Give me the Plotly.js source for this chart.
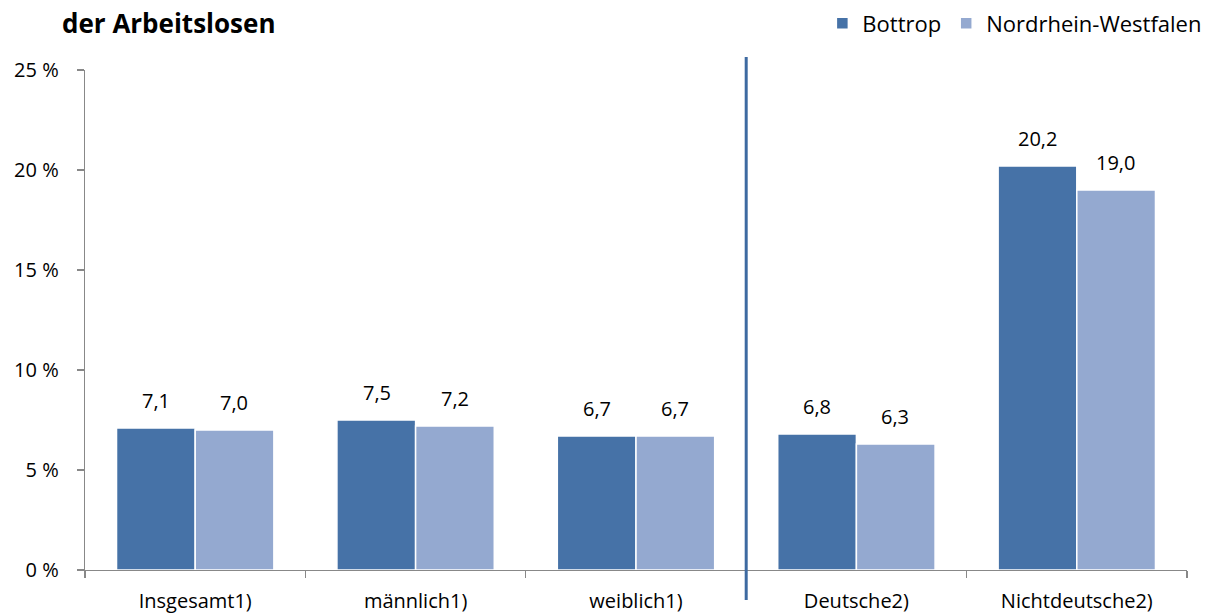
<!DOCTYPE html>
<html><head><meta charset="utf-8">
<script src="https://cdn.plot.ly/plotly-3.0.1.min.js"></script>
<style>html,body{margin:0;padding:0;background:#fff}#chart{width:1211px;height:615px}</style>
</head><body><div id="chart"></div>
<script>
const categories = ["Insgesamt1)", "männlich1)", "weiblich1)", "Deutsche2)", "Nichtdeutsche2)"];
const bottrop = [7.1, 7.5, 6.7, 6.8, 20.2];
const nrw = [7.0, 7.2, 6.7, 6.3, 19.0];
const seriesNames = ["Bottrop", "Nordrhein-Westfalen"];
const yTickVals = [0, 5, 10, 15, 20, 25];
const yTickText = ["0 %", "5 %", "10 %", "15 %", "20 %", "25 %"];
const titleText = "der Arbeitslosen";

const fmt = v => v.toFixed(1).replace(".", ",");
const FONT = "Open Sans, sans-serif";

const traces = [
  {type: "bar", name: seriesNames[0], x: categories, y: bottrop,
   marker: {color: "#4672A7", line: {color: "#ffffff", width: 1.5}}, hoverinfo: "none"},
  {type: "bar", name: seriesNames[1], x: categories, y: nrw,
   marker: {color: "#94A9D0", line: {color: "#ffffff", width: 1.5}}, hoverinfo: "none"}
];

const annotations = [];
categories.forEach((c, i) => {
  annotations.push({x: c, y: bottrop[i], xref: "x", yref: "y", text: fmt(bottrop[i]), showarrow: false,
    xshift: -39, yshift: 28, yanchor: "middle", font: {family: FONT, size: 20, color: "#000"}});
  annotations.push({x: c, y: nrw[i], xref: "x", yref: "y", text: fmt(nrw[i]), showarrow: false,
    xshift: 39, yshift: 28, yanchor: "middle", font: {family: FONT, size: 20, color: "#000"}});
});
annotations.push({x: -0.0227, y: 1.094, xref: "paper", yref: "paper", xanchor: "left", yanchor: "middle",
  text: "<b>" + titleText + "</b>", showarrow: false, font: {family: FONT, size: 26, color: "#000"}});

const layout = {
  width: 1211, height: 615,
  margin: {l: 85, r: 24, t: 70, b: 45},
  paper_bgcolor: "#fff", plot_bgcolor: "#fff",
  barmode: "group", bargap: 0.286, bargroupgap: 0,
  font: {family: FONT, size: 20, color: "#000"},
  showlegend: true,
  legend: {orientation: "h", xref: "container", yref: "container", x: 0.997, xanchor: "right",
    y: 0.962, yanchor: "middle",
    font: {family: FONT, size: 22, color: "#000"}, itemwidth: 30, traceorder: "normal"},
  xaxis: {type: "category", showline: true, linecolor: "#888", linewidth: 1.3,
    ticks: "outside", tickson: "boundaries", ticklen: 7, tickcolor: "#888", tickwidth: 1.3,
    showgrid: false, zeroline: false, tickfont: {family: FONT, size: 20, color: "#000"},
    ticklabelstandoff: 13, fixedrange: true},
  yaxis: {range: [0, 25], tickvals: yTickVals, ticktext: yTickText, showline: true,
    linecolor: "#888", linewidth: 1.3, ticks: "outside", ticklen: 7, tickcolor: "#888", tickwidth: 1.3,
    showgrid: false, zeroline: false, tickfont: {family: FONT, size: 20, color: "#000"},
    ticklabelstandoff: 14, fixedrange: true},
  shapes: [{type: "line", xref: "x", yref: "paper", x0: 2.5, x1: 2.5, y0: -0.06, y1: 1.026,
    line: {color: "#3E6AA1", width: 3}}],
  annotations: annotations
};

Plotly.newPlot("chart", traces, layout, {displayModeBar: false, staticPlot: true});
</script></body></html>
